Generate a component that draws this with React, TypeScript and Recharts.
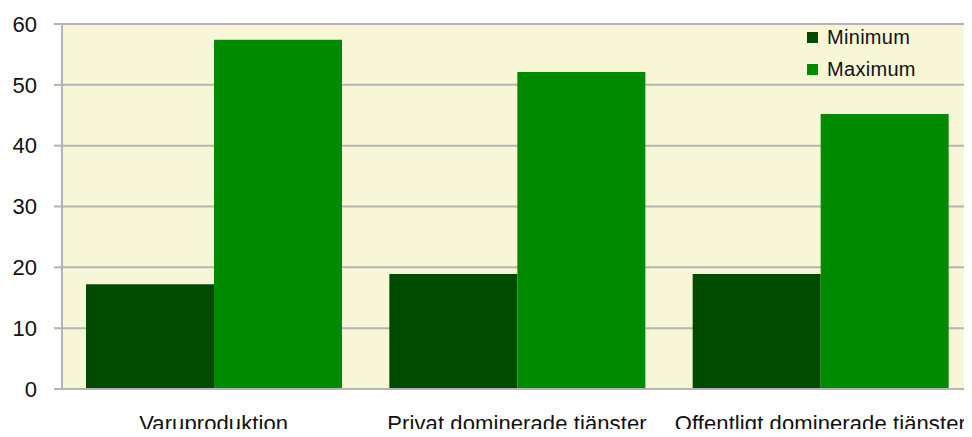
import { BarChart, Bar, XAxis, YAxis, CartesianGrid, Legend } from 'recharts';

const categories = ['Varuproduktion', 'Privat dominerade tjänster', 'Offentligt dominerade tjänster'];
const seriesNames = ['Minimum', 'Maximum'];
const minimumValues = [17.2, 18.9, 18.9];
const maximumValues = [57.4, 52.1, 45.2];
const yTicks = [0, 10, 20, 30, 40, 50, 60];

const data = categories.map((name, i) => ({
    name,
    min: minimumValues[i],
    max: maximumValues[i],
}));

const FONT = '"Liberation Sans", Arial, sans-serif';
const GRID = '#b4b4b4';

const renderLegend = ({ payload }: any) => {
    if (!payload) return null;
    // keep series order (Minimum first) like the original legend
    const items = [...payload].sort(
        (a: any, b: any) => seriesNames.indexOf(a.value) - seriesNames.indexOf(b.value)
    );
    return (
        <div style={{ fontFamily: FONT, fontSize: 20, color: '#111', letterSpacing: 0.3 }}>
            {items.map((entry: any) => (
                <div key={entry.value} style={{ display: 'flex', alignItems: 'center', height: 32 }}>
                    <span style={{ width: 11, height: 11, background: entry.color, marginRight: 9 }} />
                    <span>{entry.value}</span>
                </div>
            ))}
        </div>
    );
};

export default function App() {
    return (
        <div style={{ margin: -8, background: '#fff', width: 972, height: 437 }}>
            <BarChart
                width={972}
                height={437}
                data={data}
                margin={{ top: 24, right: 0, left: 0, bottom: 0 }}
                barGap={0}
                barCategoryGap={24}
            >
                <CartesianGrid vertical={false} stroke={GRID} strokeWidth={2} fill="#f7f7d8" />
                <XAxis
                    dataKey="name"
                    height={48}
                    interval={0}
                    tickLine={false}
                    tickMargin={20}
                    axisLine={{ stroke: GRID, strokeWidth: 2 }}
                    tick={{ fontFamily: FONT, fontSize: 22, fill: '#111', letterSpacing: 0.1 }}
                />
                <YAxis
                    width={62}
                    domain={[0, 60]}
                    ticks={yTicks}
                    tickSize={8}
                    tickMargin={17}
                    tickLine={{ stroke: GRID, strokeWidth: 2 }}
                    axisLine={{ stroke: GRID, strokeWidth: 2 }}
                    tick={{ fontFamily: FONT, fontSize: 22, fill: '#111' }}
                />
                <Legend
                    layout="vertical"
                    align="center"
                    verticalAlign="middle"
                    content={renderLegend}
                    wrapperStyle={{ top: 21, left: 807, width: 150 }}
                />
                <Bar dataKey="min" name="Minimum" fill="#004b00" isAnimationActive={false} />
                <Bar dataKey="max" name="Maximum" fill="#008a00" isAnimationActive={false} />
            </BarChart>
        </div>
    );
}
